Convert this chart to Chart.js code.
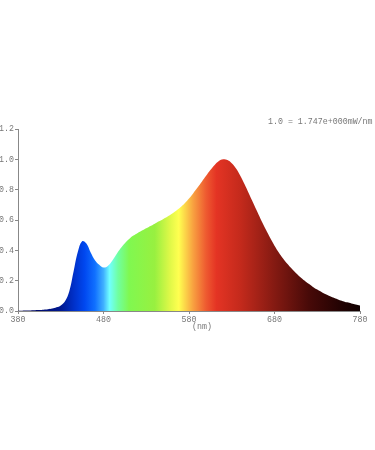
<!DOCTYPE html>
<html>
<head>
<meta charset="utf-8">
<script src="https://cdn.jsdelivr.net/npm/chart.js@4.4.1/dist/chart.umd.min.js"></script>
<style>
  html, body { margin:0; padding:0; background:#fff; }
  #wrap { position:relative; width:375px; height:450px; }
</style>
</head>
<body>
<div id="wrap"><canvas id="spec" width="375" height="450"></canvas></div>
<script>
// wavelength (nm) and relative intensity
const wavelengths = [380,385,390,395,400,405,410,415,420,425,430,435,440,445,450,455,460,465,470,475,
  480,485,490,495,500,505,510,515,520,525,530,535,540,545,550,555,560,565,570,575,
  580,585,590,595,600,605,610,615,620,625,630,635,640,645,650,655,660,665,670,675,
  680,685,690,695,700,705,710,715,720,725,730,735,740,745,750,755,760,765,770,775,780];
const intensity = [0.002,0.002,0.003,0.004,0.005,0.006,0.008,0.011,0.016,0.024,0.037,0.064,0.13,0.26,0.39,0.46,0.445,0.385,0.335,0.305,
  0.287,0.297,0.33,0.372,0.413,0.447,0.475,0.497,0.515,0.531,0.546,0.561,0.576,0.591,0.607,0.623,0.641,0.661,0.684,0.711,
  0.742,0.777,0.814,0.852,0.891,0.929,0.963,0.989,1.0,0.995,0.974,0.939,0.892,0.835,0.774,0.713,0.652,0.592,0.535,0.481,
  0.431,0.386,0.346,0.311,0.28,0.251,0.225,0.201,0.179,0.159,0.141,0.125,0.11,0.097,0.085,0.074,0.065,0.057,0.05,0.043,0.037];
const xTicks = [380,480,580,680,780];
const yTicks = [0,0.2,0.4,0.6,0.8,1.0,1.2];
const scaleNote = "1.0 = 1.747e+000mW/nm";
const xTitle = "(nm)";

// colour of the fill by wavelength
const spectrumStops = [
  [380,'#000050'],[430,'#001890'],[445,'#0030c8'],[458,'#0048f0'],[470,'#1070ff'],
  [480,'#40b0ff'],[487,'#70ffff'],[497,'#70ffa0'],[510,'#80f850'],[540,'#98f040'],
  [558,'#e0f848'],[568,'#ffff50'],[585,'#f8a040'],[600,'#ee5a30'],[612,'#e43424'],
  [640,'#c42a1c'],[680,'#841a12'],[720,'#480a08'],[760,'#200202'],[780,'#100000']
];

const font = { family:'"Liberation Mono", monospace', size:8.3 };
const grey = '#777';

function spectrumFill(c){
  const chart = c.chart;
  if (!chart.chartArea) return 'rgba(0,0,0,0)';
  const xs = chart.scales.x;
  const x0 = xs.getPixelForValue(380), x1 = xs.getPixelForValue(780);
  const g = chart.ctx.createLinearGradient(x0, 0, x1, 0);
  spectrumStops.forEach(([nm, col]) => g.addColorStop((nm - 380) / 400, col));
  return g;
}

const textPlugin = {
  id:'texts',
  afterDraw(chart){
    const ctx = chart.ctx, a = chart.chartArea;
    ctx.save();
    ctx.font = '8.3px "Liberation Mono", monospace';
    ctx.fillStyle = grey;
    ctx.textBaseline = 'middle';
    ctx.textAlign = 'left';
    ctx.fillText(scaleNote, a.right - 92, a.top - 7);
    ctx.textAlign = 'center';
    ctx.fillText(xTitle, a.left + 184, a.bottom + 16);
    ctx.restore();
  }
};

new Chart(document.getElementById('spec'), {
  type:'line',
  data:{
    datasets:[{
      data: wavelengths.map((w, i) => ({ x:w, y:intensity[i] })),
      fill:'origin',
      backgroundColor: spectrumFill,
      borderWidth:0,
      pointRadius:0,
      tension:0.4
    }]
  },
  options:{
    responsive:false,
    animation:false,
    layout:{ padding:{ top:129, right:15, bottom:119, left:0 } },
    plugins:{ legend:{ display:false }, tooltip:{ enabled:false } },
    scales:{
      x:{
        type:'linear', min:380, max:780,
        afterBuildTicks: s => { s.ticks = xTicks.map(v => ({ value:v })); },
        afterFit: s => { s.height = 20; },
        grid:{ drawOnChartArea:false, drawTicks:true, tickLength:3, color:'#888' },
        border:{ color:'#888' },
        ticks:{ font, color:grey, padding:1, maxRotation:0 }
      },
      y:{
        min:0, max:1.2,
        afterBuildTicks: s => { s.ticks = yTicks.map(v => ({ value:v })); },
        afterFit: s => { s.width = 18; },
        grid:{ drawOnChartArea:false, drawTicks:true, tickLength:3, color:'#888' },
        border:{ color:'#888' },
        ticks:{ font, color:grey, padding:1, callback: v => v.toFixed(1) }
      }
    }
  },
  plugins:[textPlugin]
});
</script>
</body>
</html>
